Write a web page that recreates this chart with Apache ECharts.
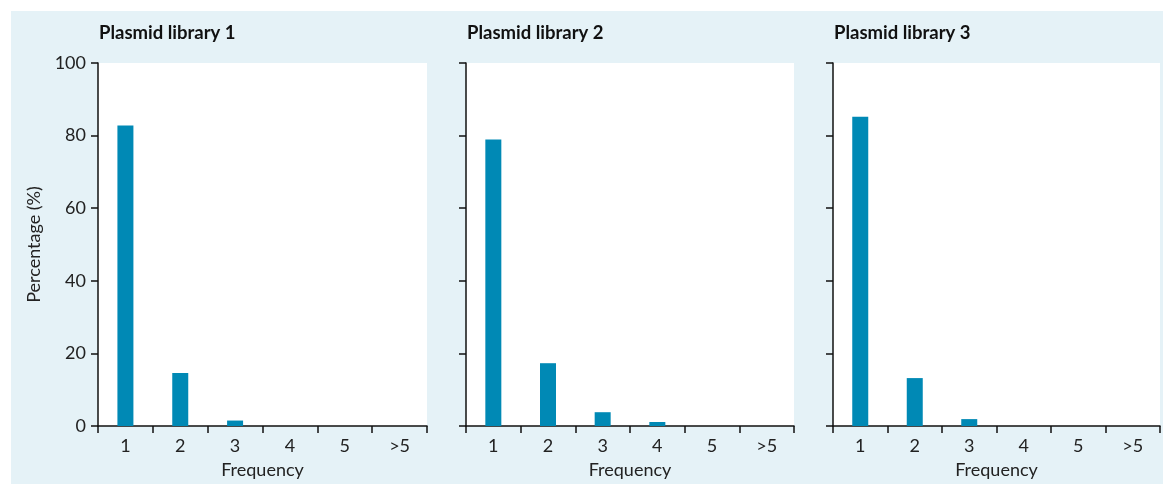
<!DOCTYPE html>
<html>
<head>
<meta charset="utf-8">
<script src="https://cdn.jsdelivr.net/npm/echarts@6/dist/echarts.min.js"></script>
<style>
  html, body { margin: 0; padding: 0; background: #ffffff; }
  #chart { width: 1163px; height: 484px; }
</style>
</head>
<body>
<div id="chart"></div>
<script>
// Frequency classes shared by all three libraries
const categories = ['1', '2', '3', '4', '5', '>5'];
const panelTitles = ['Plasmid library 1', 'Plasmid library 2', 'Plasmid library 3'];
// Percentage of clones in each frequency class
const library1 = [82.8, 14.6, 1.5, 0, 0, 0];
const library2 = [78.9, 17.3, 3.8, 1.1, 0, 0];
const library3 = [85.2, 13.2, 1.9, 0, 0, 0];
const yTicks = [0, 20, 40, 60, 80, 100];

const seriesData = [library1, library2, library3];
const panels = [
  { left: 98, width: 329 },
  { left: 466, width: 328 },
  { left: 833, width: 327 }
];
const TOP = 63, HEIGHT = 363;
const FONT = 'Lato, "Open Sans", sans-serif';
const TEXT = '#222222';
const AXIS = '#111111';
const BAR = '#0089b5';

const chart = echarts.init(document.getElementById('chart'), null, { renderer: 'canvas' });

const option = {
  animation: false,
  textStyle: { fontFamily: FONT },
  graphic: {
    elements: [{
      type: 'rect', z: -100, silent: true,
      shape: { x: 11, y: 11, width: 1152, height: 473 },
      style: { fill: '#e5f2f7' }
    }]
  },
  title: panels.map((p, i) => ({
    text: panelTitles[i],
    left: p.left + 1, top: 24, padding: 0,
    textStyle: { fontFamily: FONT, fontSize: 18.5, fontWeight: 'bold', color: '#111111' }
  })),
  grid: panels.map(p => ({
    left: p.left, width: p.width, top: TOP, height: HEIGHT,
    outerBoundsMode: 'none',
    show: true, backgroundColor: '#ffffff', borderWidth: 0, containLabel: false
  })),
  xAxis: panels.map((p, i) => ({
    type: 'category', gridIndex: i, data: categories,
    name: 'Frequency', nameLocation: 'middle', nameGap: 35,
    nameTextStyle: { fontFamily: FONT, fontSize: 18, color: TEXT },
    axisLine: { show: true, lineStyle: { color: AXIS, width: 1.5 } },
    axisTick: { show: true, length: 7, alignWithLabel: false, lineStyle: { color: AXIS, width: 1.5 } },
    axisLabel: { fontFamily: FONT, fontSize: 18, color: TEXT, margin: 11 },
    splitLine: { show: false }
  })),
  yAxis: panels.map((p, i) => ({
    type: 'value', gridIndex: i, min: 0, max: 100, interval: 20,
    name: i === 0 ? 'Percentage (%)' : '',
    nameLocation: 'middle', nameGap: 55,
    nameTextStyle: { fontFamily: FONT, fontSize: 18, color: TEXT },
    axisLine: { show: true, lineStyle: { color: AXIS, width: 1.5 } },
    axisTick: { show: true, length: 7, lineStyle: { color: AXIS, width: 1.5 } },
    axisLabel: {
      show: i === 0, fontFamily: FONT, fontSize: 18, color: TEXT, margin: 12,
      formatter: v => (yTicks.indexOf(v) >= 0 ? String(v) : '')
    },
    splitLine: { show: false }
  })),
  series: seriesData.map((d, i) => ({
    type: 'bar', xAxisIndex: i, yAxisIndex: i, data: d,
    barWidth: 16, itemStyle: { color: BAR }, silent: true
  }))
};

chart.setOption(option);
</script>
</body>
</html>
